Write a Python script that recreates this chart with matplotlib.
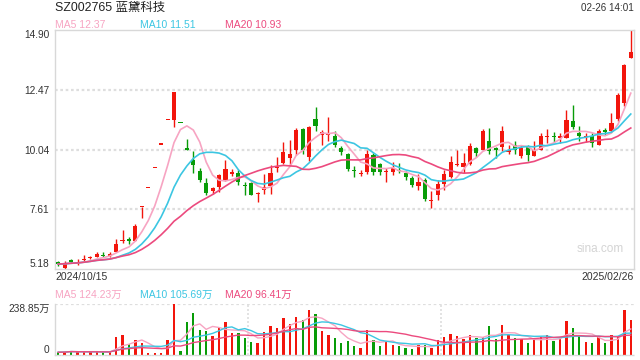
import matplotlib
matplotlib.use("Agg")
import matplotlib.pyplot as plt
import numpy as np
import pandas as pd

plt.rcParams['font.family'] = ['Liberation Sans', 'Noto Sans CJK SC', 'DejaVu Sans']

# ---------------- data ----------------
title = "SZ002765 蓝黛科技"
timestamp = "02-26 14:01"
start_label = "2024/10/15"
end_label = "2025/02/26"

opens = [5.45, 5.23, 5.53, 5.41, 5.53, 5.62, 5.68, 5.76, 5.72, 5.86,
         6.30, 6.38, 6.33, 7.69, 8.46, 9.30, 10.24, 11.24, 11.24, 11.12,
         10.04, 9.63, 9.15, 8.66, 8.35, 8.51, 8.80, 9.06, 9.10, 8.60,
         8.66, 8.22, 8.39, 8.55, 9.29, 9.50, 9.69, 10.01, 10.89, 9.73,
         11.30, 10.62, 10.61, 10.57, 10.11, 9.84, 9.21, 9.05, 9.14, 9.81,
         9.46, 9.13, 9.11, 9.20, 9.08, 8.87, 8.54, 8.78, 7.96, 8.19,
         8.62, 8.92, 9.39, 9.32, 9.47, 10.11, 10.03, 10.40, 10.06, 10.13,
         9.95, 10.24, 9.76, 10.13, 9.78, 10.03, 10.56, 10.58, 10.49, 10.52,
         11.21, 10.73, 10.53, 10.57, 10.21, 10.85, 10.78, 11.27, 11.92, 13.75]
highs = [5.50, 5.52, 5.58, 5.57, 5.74, 5.72, 5.86, 5.86, 5.88, 6.42,
         6.77, 6.48, 7.00, 7.69, 8.46, 9.30, 10.24, 11.24, 12.38, 11.12,
         10.47, 9.96, 9.30, 8.90, 8.53, 9.04, 9.62, 9.26, 9.20, 8.70,
         8.72, 8.33, 9.06, 9.40, 9.73, 10.33, 10.41, 10.90, 10.92, 11.01,
         11.77, 10.84, 11.38, 10.81, 10.20, 9.89, 9.35, 9.19, 10.03, 9.89,
         9.51, 9.27, 9.54, 9.49, 9.16, 8.95, 9.03, 8.89, 8.35, 8.78,
         9.19, 9.76, 10.00, 9.89, 10.30, 10.16, 10.86, 10.92, 10.16, 11.00,
         10.24, 10.38, 10.24, 10.24, 10.38, 10.70, 10.89, 10.76, 10.73, 11.65,
         11.86, 11.00, 10.73, 10.70, 10.86, 10.92, 11.51, 12.32, 13.51, 14.90]
lows = [5.31, 5.18, 5.42, 5.35, 5.51, 5.58, 5.65, 5.65, 5.68, 5.86,
        6.23, 6.20, 6.30, 7.27, 8.46, 9.30, 10.24, 11.24, 10.94, 11.12,
        10.04, 9.07, 8.70, 8.20, 8.25, 8.33, 8.75, 8.96, 8.60, 8.20,
        8.18, 7.90, 8.23, 8.23, 9.14, 9.47, 9.42, 9.81, 9.84, 9.59,
        10.81, 10.21, 10.40, 10.13, 9.81, 9.16, 8.92, 8.95, 9.03, 9.00,
        9.00, 8.70, 9.00, 9.08, 8.81, 8.51, 8.38, 7.95, 7.68, 8.00,
        8.41, 8.89, 9.35, 9.08, 9.40, 9.73, 10.00, 9.87, 9.70, 9.97,
        9.84, 9.84, 9.68, 9.57, 9.78, 10.00, 10.32, 10.35, 10.30, 10.49,
        10.89, 10.38, 10.35, 10.13, 10.21, 10.65, 10.76, 11.19, 11.81, 13.75]
closes = [5.38, 5.41, 5.45, 5.47, 5.57, 5.66, 5.78, 5.72, 5.81, 6.19,
          6.34, 6.33, 6.93, 7.69, 8.46, 9.30, 10.24, 11.24, 12.36, 11.12,
          10.04, 9.40, 8.80, 8.29, 8.47, 8.99, 9.26, 9.09, 8.72, 8.57,
          8.18, 8.24, 8.53, 9.07, 9.32, 9.93, 9.85, 10.85, 10.01, 10.97,
          10.98, 10.76, 10.70, 10.21, 9.95, 9.24, 9.18, 9.07, 9.84, 9.12,
          9.14, 9.15, 9.27, 9.18, 8.92, 8.60, 8.73, 8.03, 7.98, 8.62,
          9.06, 9.54, 9.41, 9.51, 10.20, 9.89, 10.81, 9.97, 10.04, 10.81,
          10.03, 10.00, 10.11, 9.81, 10.00, 10.57, 10.58, 10.56, 10.57, 11.24,
          10.94, 10.57, 10.55, 10.30, 10.81, 10.76, 11.13, 12.27, 13.48, 14.02]
volumes = [13, 14, 21, 14, 14, 15, 15, 12, 13, 83,
           92, 52, 68, 56, 11, 8, 8, 68, 238.85, 21,
           154, 199, 116, 111, 89, 129, 154, 103, 103, 78,
           59, 56, 108, 135, 126, 175, 145, 180, 164, 212,
           194, 111, 92, 78, 54, 64, 40, 35, 116, 68,
           40, 59, 45, 40, 35, 30, 49, 45, 35, 68,
           83, 97, 88, 73, 92, 78, 83, 135, 73, 140,
           92, 78, 73, 54, 68, 83, 92, 64, 73, 159,
           126, 92, 59, 54, 83, 54, 92, 88, 212, 164]

price_ticks = [5.18, 7.61, 10.04, 12.47, 14.90]
vol_ticks = [0, 238.85]
vol_tick_labels = ["0", "238.85万"]
ma_price_labels = ["MA5 12.37", "MA10 11.51", "MA20 10.93"]
ma_vol_labels = ["MA5 124.23万", "MA10 105.69万", "MA20 96.41万"]
ma_windows = [5, 10, 20]

# ---------------- style ----------------
RED = '#f2150c'
GREEN = '#089c08'
MA_COLORS = ['#f7a4c2', '#3cc6e2', '#ec4a7e']
FRAME = '#d8d8d8'
GRID = '#dedede'
TXT = '#333333'

o = np.array(opens); h = np.array(highs); l = np.array(lows); c = np.array(closes)
v = np.array(volumes)
n = len(c)
x = np.arange(n)
prev_c = np.concatenate([[c[0]], c[:-1]])
up = (c > o) | ((c == o) & (c >= prev_c))
colors = np.where(up, RED, GREEN)

fig = plt.figure(figsize=(6.4, 3.6), dpi=100)
fig.patch.set_facecolor('white')

def px_axes(left, top, right, bottom):
    return fig.add_axes([left / 640, 1 - bottom / 360, (right - left) / 640, (bottom - top) / 360])

ax = px_axes(55, 30, 634, 269)
vax = px_axes(55, 304, 634, 355)

# ---------------- price panel ----------------
ax.set_xlim(-0.5, n - 0.5)
ax.set_ylim(price_ticks[0], price_ticks[-1])
for t in price_ticks[1:-1]:
    ax.axhline(t, color=GRID, lw=1.6, ls=(0, (1.2, 1.2)), zorder=0)

ax.vlines(x, l, h, colors=colors, lw=1.0, zorder=2)
body_bottom = np.minimum(o, c)
body_h = np.maximum(np.abs(c - o), 0.045)
ax.bar(x, body_h, bottom=body_bottom, width=0.64, color=colors, lw=0, zorder=3)

cs = pd.Series(c)
for w, col in zip(ma_windows, MA_COLORS):
    ax.plot(x, cs.rolling(w, min_periods=1).mean(), color=col, lw=1.2, zorder=4)

ax.set_yticks(price_ticks)
ax.set_yticklabels([f"{t:.2f}" for t in price_ticks])
ax.tick_params(axis='y', length=0, pad=4, labelsize=7.3, labelcolor=TXT)
labs = ax.get_yticklabels()
labs[0].set_va('bottom')
labs[-1].set_va('top')
ax.set_xticks([])
for s in ax.spines.values():
    s.set_color(FRAME)
    s.set_linewidth(1.0)

ax.text(0.982, 0.085, "sina.com", transform=ax.transAxes, ha='right', va='center',
        fontsize=8.5, color='#d4d4d4', zorder=1)

# ---------------- volume panel ----------------
vax.set_xlim(-0.5, n - 0.5)
vax.set_ylim(vol_ticks[0], vol_ticks[-1])
vax.bar(x, v, width=0.36, color=colors, lw=0, zorder=2)
vs = pd.Series(v)
for w, col in zip(ma_windows, MA_COLORS):
    vax.plot(x, vs.rolling(w, min_periods=1).mean(), color=col, lw=1.0, zorder=3)

vax.axhline(vol_ticks[-1], color=GRID, lw=1.6, ls=(0, (1.2, 1.2)), zorder=0)
xmin, xmax = vax.get_xlim()
for k in (1, 2):
    vax.axvline(xmin + (xmax - xmin) * k / 3, color=GRID, lw=1.2, ls=(0, (1.2, 1.2)), zorder=0)
vax.set_yticks(vol_ticks)
vax.set_yticklabels(vol_tick_labels)
vax.tick_params(axis='y', length=0, pad=4, labelsize=7.3, labelcolor=TXT)
vl = vax.get_yticklabels()
vl[0].set_va('bottom')
vl[-1].set_va('top')
vax.set_xticks([])
for side, s in vax.spines.items():
    s.set_color(FRAME)
    s.set_linewidth(1.0)
vax.spines['top'].set_visible(False)
vax.spines['right'].set_visible(False)
vax.spines['bottom'].set_linestyle((0, (1.2, 1.2)))

# ---------------- texts ----------------
fig.text(55 / 640, 1 - 8 / 360, title, ha='left', va='center', fontsize=8.9, color='#222222')
fig.text(634 / 640, 1 - 8 / 360, timestamp, ha='right', va='center', fontsize=7.1, color=TXT)
for lab, col, xp in zip(ma_price_labels, MA_COLORS, [55, 140, 225]):
    fig.text(xp / 640, 1 - 24.5 / 360, lab, ha='left', va='center', fontsize=7.5, color=col)
for lab, col, xp in zip(ma_vol_labels, MA_COLORS, [55, 140, 225]):
    fig.text(xp / 640, 1 - 295 / 360, lab, ha='left', va='center', fontsize=7.5, color=col)
fig.text(55 / 640, 1 - 277.5 / 360, start_label, ha='left', va='center', fontsize=7.5, color=TXT)
fig.text(634 / 640, 1 - 277.5 / 360, end_label, ha='right', va='center', fontsize=7.5, color=TXT)

fig.savefig("out.png", dpi=100, facecolor='white')
